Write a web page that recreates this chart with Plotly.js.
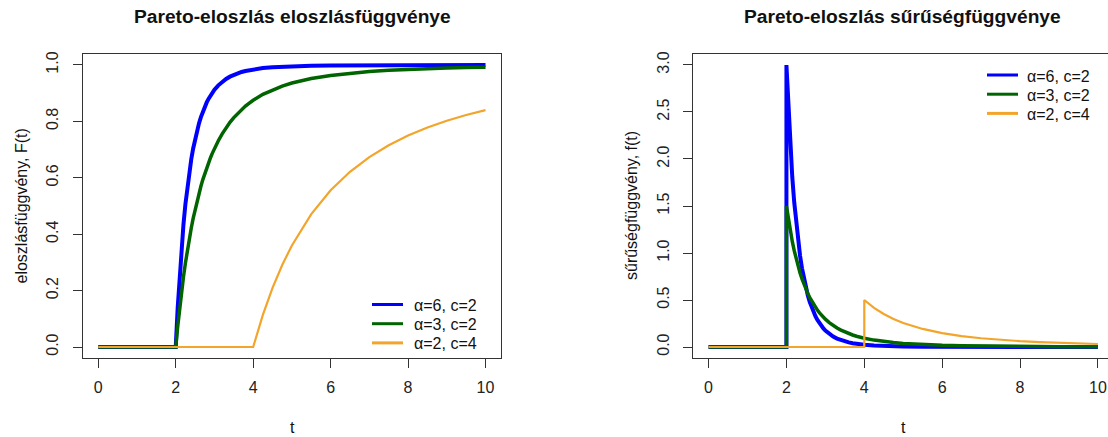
<!DOCTYPE html>
<html>
<head>
<meta charset="utf-8">
<script src="https://cdn.plot.ly/plotly-3.0.1.min.js"></script>
<style>html,body{margin:0;padding:0;background:#fff;}#chart{width:1108px;height:437px;}</style>
</head>
<body>
<div id="chart"></div>
<script>
// ---- data ----
var tC2 = [0, 2, 2.05, 2.1, 2.15, 2.2, 2.25, 2.3, 2.35, 2.4, 2.45, 2.5, 2.55, 2.6, 2.65, 2.7, 2.75, 2.8, 2.85, 2.9, 2.95, 3,
           3.1, 3.2, 3.3, 3.4, 3.5, 3.6, 3.7, 3.8, 3.9, 4, 4.25, 4.5, 4.75, 5, 5.5, 6, 6.5, 7, 7.5, 8, 8.5, 9, 9.5, 10];
var cdfA6 = [0, 0, 0.1377, 0.2538, 0.3520, 0.4355, 0.5067, 0.5677, 0.6200, 0.6651, 0.7041, 0.7379, 0.7672, 0.7928, 0.8152, 0.8348, 0.8520, 0.8672, 0.8806, 0.8924, 0.9029, 0.9122,
             0.9279, 0.9404, 0.9504, 0.9586, 0.9652, 0.9706, 0.9751, 0.9787, 0.9818, 0.9844, 0.9891, 0.9923, 0.9944, 0.9959, 0.9977, 0.9986, 0.9992, 0.9995, 0.9996, 0.9998, 0.9998, 0.9999, 0.9999, 0.9999];
var cdfA3 = [0, 0, 0.0714, 0.1362, 0.1950, 0.2487, 0.2977, 0.3425, 0.3836, 0.4213, 0.4560, 0.4880, 0.5175, 0.5448, 0.5701, 0.5936, 0.6153, 0.6356, 0.6544, 0.6720, 0.6884, 0.7037,
             0.7315, 0.7559, 0.7774, 0.7965, 0.8134, 0.8285, 0.8421, 0.8542, 0.8651, 0.8750, 0.8958, 0.9122, 0.9254, 0.9360, 0.9519, 0.9630, 0.9709, 0.9767, 0.9810, 0.9844, 0.9870, 0.9890, 0.9907, 0.9920];
var tC4 = [0, 4, 4.25, 4.5, 4.75, 5, 5.5, 6, 6.5, 7, 7.5, 8, 8.5, 9, 9.5, 10];
var cdfA2 = [0, 0, 0.1142, 0.2099, 0.2909, 0.3600, 0.4711, 0.5556, 0.6213, 0.6735, 0.7156, 0.7500, 0.7785, 0.8025, 0.8227, 0.8400];

var tC2pdf = [0, 2, 2, 2.05, 2.1, 2.15, 2.2, 2.25, 2.3, 2.35, 2.4, 2.45, 2.5, 2.55, 2.6, 2.65, 2.7, 2.75, 2.8, 2.85, 2.9, 2.95, 3,
              3.1, 3.2, 3.3, 3.4, 3.5, 3.6, 3.7, 3.8, 3.9, 4, 4.25, 4.5, 4.75, 5, 5.5, 6, 6.5, 7, 7.5, 8, 8.5, 9, 9.5, 10];
var pdfA6 = [0, 0, 3, 2.5238, 2.1320, 1.8083, 1.5395, 1.3154, 1.1278, 0.9702, 0.8372, 0.7247, 0.6291, 0.5477, 0.4781, 0.4184, 0.3671, 0.3228, 0.2846, 0.2514, 0.2226, 0.1975, 0.1756,
             0.1396, 0.1118, 0.0901, 0.0731, 0.0597, 0.0490, 0.0405, 0.0336, 0.0280, 0.0234, 0.0153, 0.0103, 0.0070, 0.0049, 0.0025, 0.0014, 0.0008, 0.0005, 0.0003, 0.0002, 0.0001, 0.0001, 0.0001, 0.0000];
var pdfA3 = [0, 0, 1.5, 1.3589, 1.2341, 1.1232, 1.0245, 0.9364, 0.8576, 0.7869, 0.7234, 0.6661, 0.6144, 0.5676, 0.5252, 0.4867, 0.4516, 0.4196, 0.3905, 0.3638, 0.3393, 0.3169, 0.2963,
             0.2599, 0.2289, 0.2024, 0.1796, 0.1599, 0.1429, 0.1281, 0.1151, 0.1037, 0.0938, 0.0736, 0.0585, 0.0471, 0.0384, 0.0262, 0.0185, 0.0134, 0.0100, 0.0076, 0.0059, 0.0046, 0.0037, 0.0029, 0.0024];
var tC4pdf = [0, 4, 4, 4.25, 4.5, 4.75, 5, 5.5, 6, 6.5, 7, 7.5, 8, 8.5, 9, 9.5, 10];
var pdfA2 = [0, 0, 0.5, 0.4169, 0.3512, 0.2986, 0.2560, 0.1923, 0.1481, 0.1165, 0.0933, 0.0759, 0.0625, 0.0521, 0.0439, 0.0373, 0.0320];

var alphaVals = [6, 3, 2];
var cVals = [2, 2, 4];
var seriesNames = alphaVals.map(function (a, i) { return '\u03b1=' + a + ', c=' + cVals[i]; });

var xTicks = [0, 2, 4, 6, 8, 10];
var yTicksCdf = [0, 0.2, 0.4, 0.6, 0.8, 1.0];
var yTicksPdf = [0, 0.5, 1.0, 1.5, 2.0, 2.5, 3.0];

var titleLeft = 'Pareto-eloszlás eloszlásfüggvénye';
var titleRight = 'Pareto-eloszlás sűrűségfüggvénye';
var yLabelLeft = 'eloszlásfüggvény, F(t)';
var yLabelRight = 'sűrűségfüggvény, f(t)';
var xLabel = 't';

// ---- styles ----
var colors = ['#0000ff', '#006400', '#f2a52a'];
var widths = [4, 3.5, 2.2];
var FONT = 'Liberation Sans, Arial, sans-serif';
var W = 1108, H = 437;

function tr(x, y, i, xa, ya) {
  return {
    x: x, y: y, type: 'scatter', mode: 'lines', name: seriesNames[i], showlegend: false,
    line: { color: colors[i], width: widths[i] },
    xaxis: xa, yaxis: ya, hoverinfo: 'skip'
  };
}

var data = [
  tr(tC2, cdfA6, 0, 'x', 'y'),
  tr(tC2, cdfA3, 1, 'x', 'y'),
  tr(tC4, cdfA2, 2, 'x', 'y'),
  tr(tC2pdf, pdfA6, 0, 'x2', 'y2'),
  tr(tC2pdf, pdfA3, 1, 'x2', 'y2'),
  tr(tC4pdf, pdfA2, 2, 'x2', 'y2')
];

var yDom = [1 - 358.3 / H, 1 - 53.7 / H];

function xAxis(domain, range) {
  return {
    domain: domain, range: range, tickvals: xTicks, ticktext: xTicks.map(String),
    showgrid: false, zeroline: false, showline: true, mirror: true, linecolor: '#333', linewidth: 1,
    ticks: 'outside', ticklen: 9, tickcolor: '#333', tickwidth: 1,
    tickfont: { family: FONT, size: 16, color: '#222' }, ticklabelstandoff: 5, automargin: false, fixedrange: true
  };
}
function yAxis(anchor, range, ticks, mirror) {
  return {
    domain: yDom, range: range, anchor: anchor, tickvals: ticks, ticktext: ticks.map(function (v) { return v.toFixed(1); }),
    showgrid: false, zeroline: false, showline: true, mirror: mirror, linecolor: '#333', linewidth: 1,
    ticks: 'outside', ticklen: 9, tickcolor: '#333', tickwidth: 1, tickangle: -90,
    tickfont: { family: FONT, size: 16, color: '#222' }, ticklabelstandoff: 8, automargin: false, fixedrange: true
  };
}

function ann(text, xpx, ypx, size, bold, angle, anchor) {
  return {
    text: bold ? '<b>' + text + '</b>' : text, xref: 'paper', yref: 'paper',
    x: xpx / W, y: 1 - ypx / H, xanchor: anchor || 'center', yanchor: 'middle', showarrow: false,
    textangle: angle || 0, font: { family: FONT, size: size, color: '#111' }
  };
}

var annotations = [
  ann(titleLeft, 292, 17, 19.2, true),
  ann(titleRight, 902.5, 17, 19.2, true),
  ann(xLabel, 292, 427, 16, false),
  ann(xLabel, 903, 427, 16, false),
  ann(yLabelLeft, 20.5, 206, 16, false, -90),
  ann(yLabelRight, 631, 206, 16, false, -90)
];
var shapes = [];

// legend boxes (layout positions in pixels)
function addLegend(lineX0, lineX1, textX, rowY0, rowStep) {
  seriesNames.forEach(function (name, i) {
    var yy = rowY0 + i * rowStep;
    shapes.push({
      type: 'line', xref: 'paper', yref: 'paper',
      x0: lineX0 / W, x1: lineX1 / W, y0: 1 - yy / H, y1: 1 - yy / H,
      line: { color: colors[i], width: 3 }
    });
    annotations.push(ann(name, textX, yy + 1, 16, false, 0, 'left'));
  });
}
addLegend(372, 403, 412, 304.5, 19.2);
addLegend(987, 1018, 1025, 75, 19.2);

var layout = {
  width: W, height: H,
  margin: { l: 0, r: 0, t: 0, b: 0 },
  paper_bgcolor: '#fff', plot_bgcolor: '#fff',
  font: { family: FONT, color: '#222' },
  xaxis: xAxis([82.8 / W, 501 / W], [-0.4, 10.4]),
  yaxis: yAxis('x', [-0.04, 1.04], yTicksCdf, true),
  xaxis2: xAxis([693 / W, 1], [-0.4, 10.26]),
  yaxis2: yAxis('x2', [-0.12, 3.12], yTicksPdf, false),
  showlegend: false,
  annotations: annotations,
  shapes: shapes
};

Plotly.newPlot('chart', data, layout, { displayModeBar: false, staticPlot: true });
</script>
</body>
</html>
